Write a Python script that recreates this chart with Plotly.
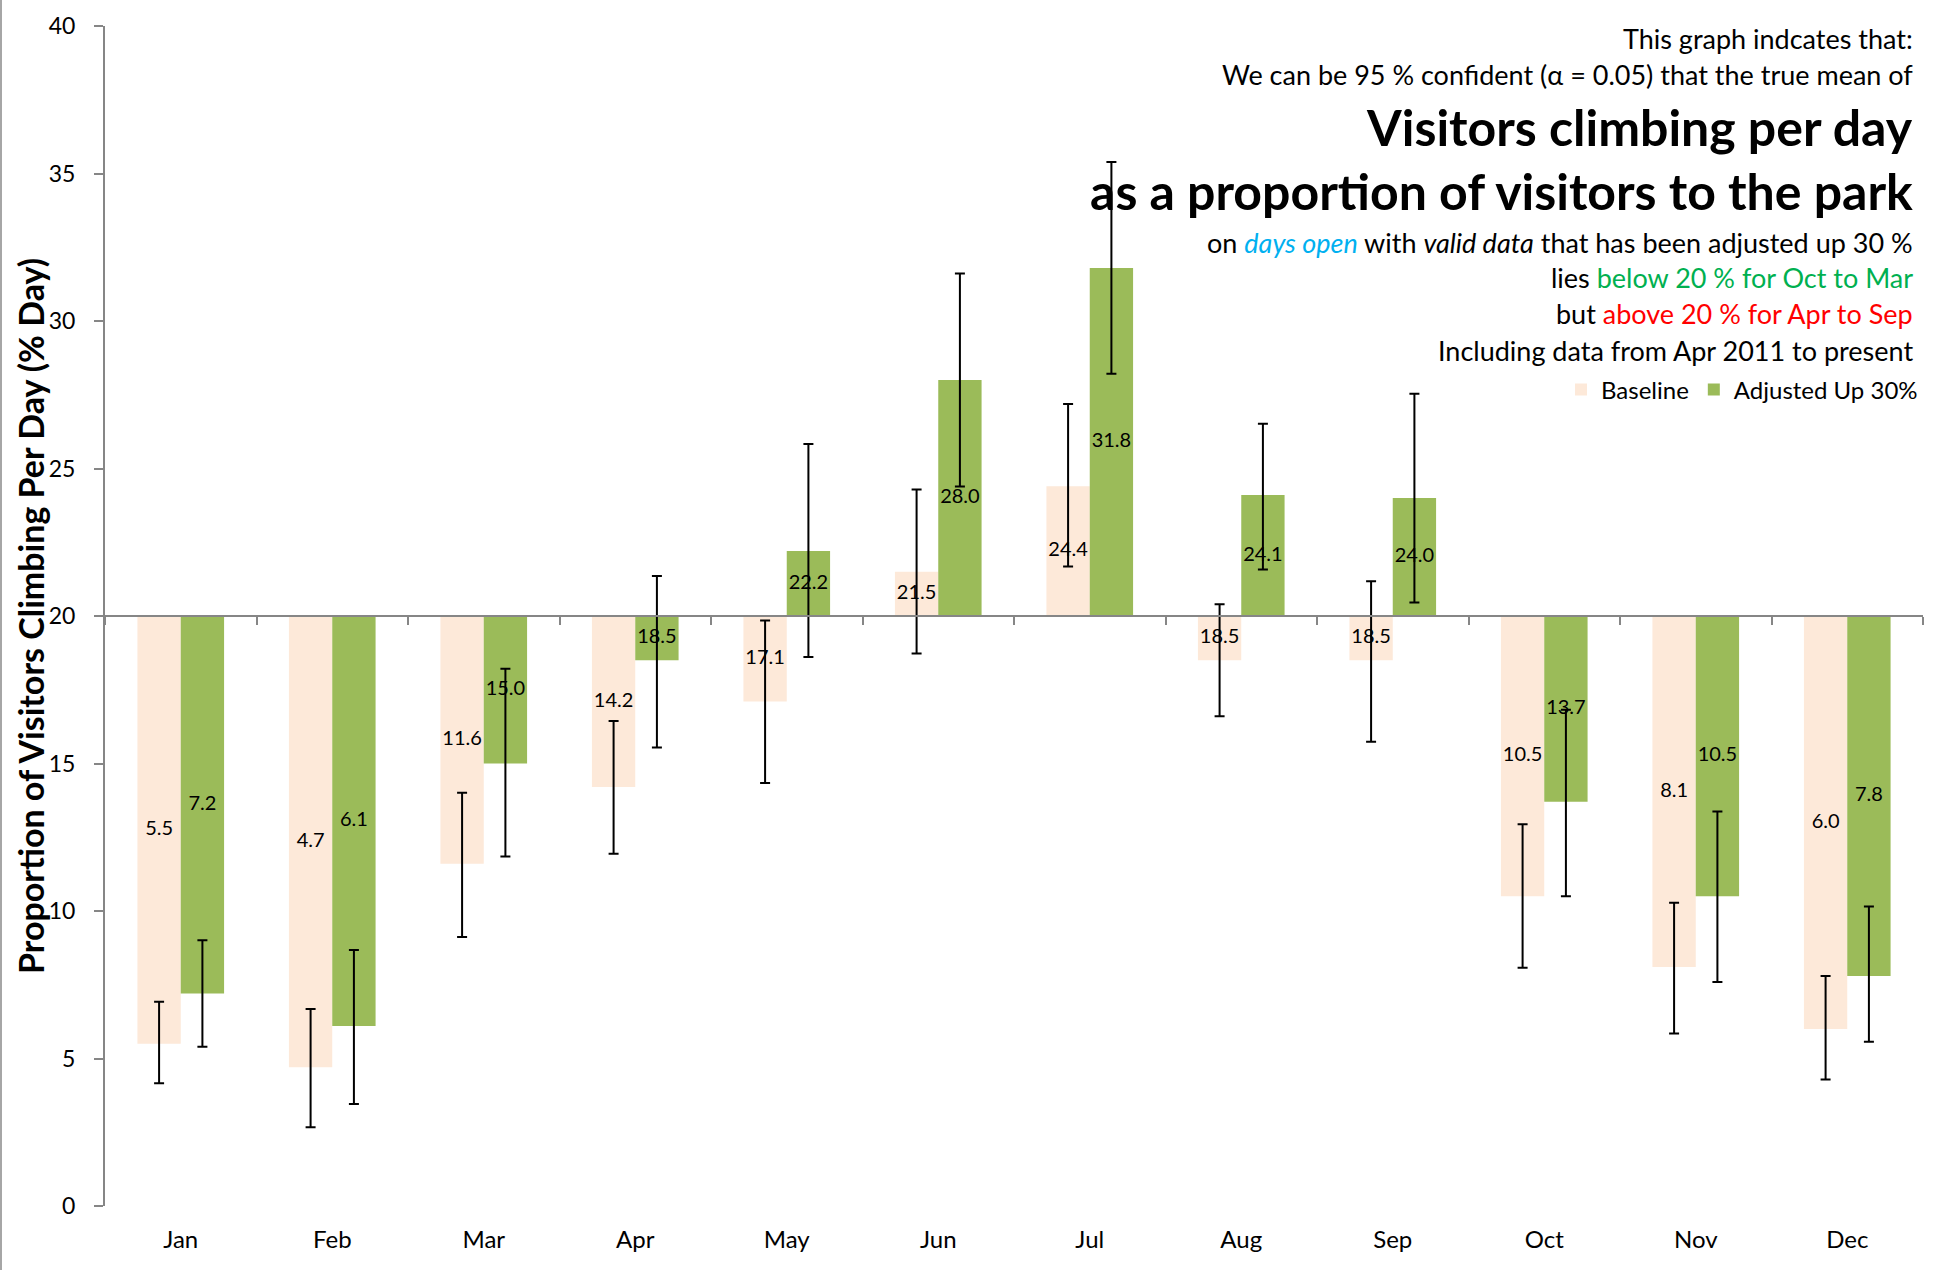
import plotly.graph_objects as go

months = ["Jan", "Feb", "Mar", "Apr", "May", "Jun", "Jul", "Aug", "Sep", "Oct", "Nov", "Dec"]
baseline = [5.5, 4.7, 11.6, 14.2, 17.1, 21.5, 24.4, 18.5, 18.5, 10.5, 8.1, 6.0]
adjusted = [7.2, 6.1, 15.0, 18.5, 22.2, 28.0, 31.8, 24.1, 24.0, 13.7, 10.5, 7.8]
baseline_lo = [4.16, 2.67, 9.12, 11.94, 14.34, 18.73, 21.68, 16.60, 15.74, 8.08, 5.85, 4.29]
baseline_hi = [6.92, 6.68, 14.01, 16.44, 19.85, 24.29, 27.19, 20.40, 21.18, 12.94, 10.28, 7.80]
adjusted_lo = [5.40, 3.46, 11.85, 15.54, 18.61, 24.39, 28.21, 21.58, 20.46, 10.50, 7.59, 5.57]
adjusted_hi = [9.01, 8.68, 18.21, 21.36, 25.83, 31.61, 35.39, 26.52, 27.53, 16.82, 13.37, 10.15]
reference_level = 20
y_ticks = [0, 5, 10, 15, 20, 25, 30, 35, 40]

text_lines = [
    "This graph indcates that:",
    "We can be 95 % confident (α = 0.05) that the true mean of",
    "<b>Visitors climbing per day</b>",
    "<b>as a proportion of visitors to the park</b>",
    "on <i><span style='color:#00B0F0'>days open</span></i> with <i>valid data</i> that has been adjusted up 30 %",
    "lies <span style='color:#00B050'>below 20 % for Oct to Mar</span>",
    "but <span style='color:#FF0000'>above 20 % for Apr to Sep</span>",
    "Including data from Apr 2011 to present",
]
text_sizes = [27, 27, 50, 50, 27, 27, 27, 27]
text_ypix = [39, 75, 127, 191, 242, 277, 313, 350]

FONT = "Lato"
W, H = 1933, 1270
ML, MR, MT, MB = 105, 10, 26, 64
PW, PH = W - ML - MR, H - MT - MB

BW = 0.286
OFF = BW / 2
idx = list(range(len(months)))
xb = [i - OFF for i in idx]
xa = [i + OFF for i in idx]

fig = go.Figure()
fig.add_trace(go.Bar(
    x=xb, y=[v - reference_level for v in baseline], base=reference_level, width=BW,
    name="Baseline", marker=dict(color="#FDE9D9", line=dict(width=0)), hoverinfo="skip",
))
fig.add_trace(go.Bar(
    x=xa, y=[v - reference_level for v in adjusted], base=reference_level, width=BW,
    name="Adjusted Up 30%", marker=dict(color="#9BBB59", line=dict(width=0)), hoverinfo="skip",
))
# data labels at the middle of each bar
for xs, vals in ((xb, baseline), (xa, adjusted)):
    fig.add_trace(go.Scatter(
        x=xs, y=[(v + reference_level) / 2 for v in vals], mode="text",
        text=[f"{v:.1f}" for v in vals], textfont=dict(family=FONT, size=20, color="black"),
        showlegend=False, hoverinfo="skip",
    ))
# confidence intervals
for xs, vals, lo, hi in ((xb, baseline, baseline_lo, baseline_hi), (xa, adjusted, adjusted_lo, adjusted_hi)):
    fig.add_trace(go.Scatter(
        x=xs, y=vals, mode="markers", marker=dict(size=1, color="rgba(0,0,0,0)"),
        error_y=dict(type="data", symmetric=False,
                     array=[h - v for h, v in zip(hi, vals)],
                     arrayminus=[v - l for v, l in zip(vals, lo)],
                     color="black", thickness=2, width=5),
        showlegend=False, hoverinfo="skip",
    ))
# dummy trace for the axis drawn at the reference level
fig.add_trace(go.Scatter(x=[None], y=[None], xaxis="x2", showlegend=False, hoverinfo="skip"))

for txt, sz, yp in zip(text_lines, text_sizes, text_ypix):
    fig.add_annotation(
        text=txt, xref="paper", yref="paper",
        x=(1915 - ML) / PW, y=(H - MB - yp) / PH, xanchor="right", yanchor="middle",
        showarrow=False, font=dict(family=FONT, size=sz, color="black"), align="right",
    )

fig.add_annotation(
    text="<b>Proportion of Visitors Climbing Per Day (% Day)</b>", textangle=-90,
    xref="paper", yref="paper", x=(30 - ML) / PW, y=0.5, xanchor="center", yanchor="middle",
    showarrow=False, font=dict(family=FONT, size=34, color="black"),
)

fig.add_shape(type="line", xref="paper", yref="paper", x0=(1 - ML) / PW, x1=(1 - ML) / PW,
              y0=-MB / PH, y1=(H - MB) / PH, line=dict(color="#A6A6A6", width=2))

fig.update_layout(
    width=W, height=H, margin=dict(l=ML, r=MR, t=MT, b=MB),
    plot_bgcolor="white", paper_bgcolor="white", barmode="overlay",
    font=dict(family=FONT, color="black"),
    showlegend=True,
    legend=dict(orientation="h", xanchor="right", x=1.0, yanchor="middle", y=(H - MB - 390) / PH,
                font=dict(family=FONT, size=24), itemwidth=30, bgcolor="rgba(0,0,0,0)",
                traceorder="normal"),
    xaxis=dict(range=[-0.5, len(months) - 0.5], tickvals=idx, ticktext=months, showline=False,
               ticks="", showgrid=False, zeroline=False, tickfont=dict(size=24),
               ticklabelstandoff=17),
    xaxis2=dict(range=[-0.5, len(months) - 0.5], overlaying="x", anchor="free",
                position=reference_level / 40, side="bottom",
                tickvals=[i - 0.5 for i in range(len(months) + 1)], ticks="outside", ticklen=8,
                tickwidth=2, tickcolor="#868686", showline=True, linecolor="#868686", linewidth=2,
                showticklabels=False, showgrid=False, zeroline=False),
    yaxis=dict(range=[0, 40], tickvals=y_ticks, showline=True, linecolor="#868686", linewidth=2,
               ticks="outside", ticklen=9, tickwidth=2, tickcolor="#868686", showgrid=False,
               zeroline=False, tickfont=dict(size=23), ticklabelstandoff=14),
)

fig.write_html("out.html", config={"displayModeBar": False},
               post_script="document.body.style.margin='0';")
